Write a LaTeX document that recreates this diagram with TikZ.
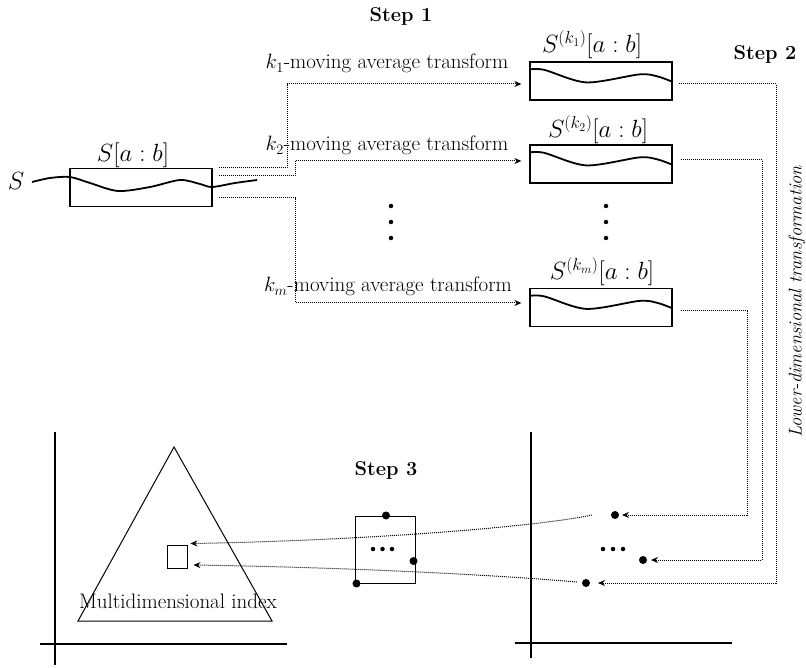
\documentclass[tikz,border=0pt]{standalone}
\usetikzlibrary{arrows.meta,calc}
\begin{document}
\begin{tikzpicture}[x=1pt,y=-1pt, font=\fontsize{21}{25}\selectfont,
  box/.style={draw, line width=1.2pt, minimum width=142pt, minimum height=38pt, inner sep=0pt},
  conn/.style={densely dotted, line width=1pt},
  arr/.style={conn, -{Stealth[length=7pt,width=6pt]}},
  wave/.style={line width=1.8pt},
  axis/.style={line width=1.3pt},
  bigdot/.style={circle, fill, inner sep=0pt, minimum size=8pt},
  smalldot/.style={circle, fill, inner sep=0pt, minimum size=4.5pt},
  steplabel/.style={font=\fontsize{20}{24}\selectfont\bfseries},
  mlabel/.style={font=\fontsize{24}{28}\selectfont, anchor=base},
  tlabel/.style={anchor=base},
  boxwave/.pic={\draw[wave] plot[smooth] coordinates {(0,8) (15,8.5) (57,21) (110,13) (128,15) (142,20)};}]
\useasboundingbox (0,0) rectangle (806,668);

% boxes
\node[box] (sbox) at (141,187.5) {};
\node[box] (b1) at (601,81) {};
\node[box] (b2) at (601,164) {};
\node[box] (bm) at (601,307.5) {};

% waves
\draw[wave] plot[smooth] coordinates {(32,182) (50,178) (70,177) (90,183) (118,191) (150,187) (180,180) (200,184) (212,187) (235,183) (257,180)};
\pic at (b1.north west) {boxwave};
\pic at (b2.north west) {boxwave};
\pic at (bm.north west) {boxwave};

% labels
\node[mlabel] (ls) at (16,190) {$S$};
\node[mlabel] (lsab) at (133,162) {$S[a:b]$};
\node[mlabel] (l1) at (592,53) {$S^{(k_1)}[a:b]$};
\node[mlabel] (l2) at (598,138) {$S^{(k_2)}[a:b]$};
\node[mlabel] (lm) at (602,280) {$S^{(k_m)}[a:b]$};

\node[tlabel] (t1) at (387,69) {$k_1$-moving average transform};
\node[tlabel] (t2) at (387,151) {$k_2$-moving average transform};
\node[tlabel] (tm) at (388,292) {$k_m$-moving average transform};

\node[steplabel] (st1) at (401,16) {Step 1};
\node[steplabel] (st2) at (765,54) {Step 2};
\node[steplabel] (st3) at (386,470) {Step 3};

\node[rotate=90, font=\fontsize{18.5}{22}\selectfont\itshape] (ldt) at (797,302) {Lower-dimensional transformation};

% vertical ellipsis
\foreach \yy in {206,222,238} {
  \node[smalldot] at (391,\yy) {};
  \node[smalldot] at (606,\yy) {};
}

% step 1 connectors
\coordinate (v1) at (287,84);
\coordinate (v2) at (295,161);
\coordinate (v3) at (295,303);
\draw[arr] ([xshift=6pt]sbox.north east) -| (v1) -- ([xshift=-8pt,yshift=-3pt]b1.west);
\draw[arr] ([xshift=6pt,yshift=-8pt]sbox.north east) -| (v2) -- ([xshift=-8pt,yshift=3pt]b2.west);
\draw[arr] ([xshift=6pt,yshift=-30pt]sbox.north east) -| (v3) -- ([xshift=-8pt,yshift=4.5pt]bm.west);

% right chart
\draw[axis] (531,432) -- (531,658);
\draw[axis] (515,643) -- (732,643);
\node[bigdot] (d1) at (615,515) {};
\node[bigdot] (d2) at (643,560) {};
\node[bigdot] (d3) at (586,583) {};
\foreach \xx in {603,613,623} \node[smalldot] at (\xx,549) {};

% step 2 connectors
\coordinate (c1) at (776,583);
\coordinate (c2) at (762,560);
\coordinate (c3) at (747,515);
\draw[arr] ([xshift=6pt,yshift=-3pt]b1.east) -| (c1) -- ([xshift=12pt]d3.center);
\draw[arr] ([xshift=8pt,yshift=4pt]b2.east) -| (c2) -- ([xshift=8pt]d2.center);
\draw[arr] ([xshift=8pt,yshift=-3.5pt]bm.east) -| (c3) -- ([xshift=7pt]d1.center);

% left chart
\draw[axis] (55,432) -- (55,665);
\draw[axis] (40,644) -- (287,644);
\draw[line width=1pt] (174,447) -- (78,621) -- (272,621) -- cycle;
\node (idx) at (178,601) {Multidimensional index};
\node[draw, line width=0.9pt, minimum width=20pt, minimum height=23pt, inner sep=0pt] (sq) at (177,556.5) {};

% step 3 box
\node[draw, line width=1pt, minimum width=60pt, minimum height=67pt, inner sep=0pt] (s3box) at (385,549.5) {};
\node[bigdot] (p1) at ([xshift=1pt]s3box.north) {};
\node[bigdot] (p2) at ([xshift=-2pt,yshift=-11.5pt]s3box.east) {};
\node[bigdot] (p3) at ([xshift=2pt]s3box.south west) {};
\foreach \xx in {373,382.5,392} \node[smalldot] at (\xx,549) {};

% step 3 connectors
\draw[arr] ([xshift=-23pt]d1.center) .. controls (540,526) and (380,540) .. ([xshift=3pt,yshift=1pt]sq.north east);
\draw[arr] ([xshift=-9pt,yshift=1pt]d3.center) .. controls (520,577) and (380,568) .. ([xshift=6pt,yshift=-8.5pt]sq.east);
\end{tikzpicture}
\end{document}
